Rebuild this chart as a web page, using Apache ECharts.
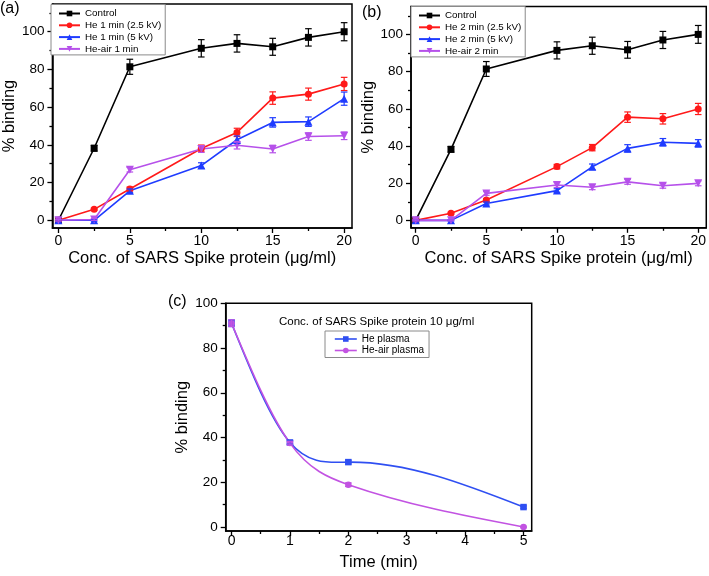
<!DOCTYPE html>
<html>
<head>
<meta charset="utf-8">
<script src="https://cdn.jsdelivr.net/npm/echarts@6/dist/echarts.min.js"></script>
<style>html,body{margin:0;padding:0;background:#fff;}#c{width:709px;height:576px;}</style>
</head>
<body>
<div id="c"></div>
<script>
// ---------- data ----------
const xConc = [0, 2.5, 5, 10, 12.5, 15, 17.5, 20];

const ctrlA = [0, 38.2, 81.4, 91.2, 93.8, 92, 97, 100];
const ctrlAErr = [0, 1.5, 4, 4.6, 4.6, 4.5, 4.6, 4.8];
const he1LowA = [0, 5.8, 16.6, 38.1, 46.6, 64.8, 66.9, 72.3];
const he1LowAErr = [0.4, 0.6, 1, 1.8, 2.2, 3.3, 3.2, 3.5];
const he1HighA = [0, 0, 15.6, 29, 42.7, 51.9, 52.3, 64.5];
const he1HighAErr = [0.4, 0.5, 1, 1.5, 2, 2.5, 2.5, 3.5];
const heAir1A = [0, 0.4, 26.8, 37.8, 39.8, 37.8, 44.4, 44.8];
const heAir1AErr = [0.4, 0.5, 1.2, 1.8, 2, 2, 2, 2];

const ctrlB = [0, 38.2, 81.4, 91.4, 93.9, 91.7, 97, 100];
const ctrlBErr = [0, 1.5, 4, 4.6, 4.6, 4.5, 4.6, 4.8];
const he2LowB = [0, 3.8, 10.9, 28.9, 39.1, 55.5, 54.6, 59.9];
const he2LowBErr = [0.3, 0.5, 0.8, 1.2, 1.7, 2.8, 2.8, 3];
const he2HighB = [0, 0, 9.1, 16, 28.8, 38.7, 42, 41.4];
const he2HighBErr = [0.3, 0.3, 0.8, 1, 1.5, 2, 2, 2];
const heAir2B = [0, 0, 14.5, 19, 17.8, 20.7, 18.6, 19.9];
const heAir2BErr = [0.3, 0.3, 1, 1.3, 1.3, 1.3, 1.3, 1.3];

const timeMin = [0, 1, 2, 5];
const hePlasma = [91.1, 37.8, 29, 8.9];
const hePlasmaErr = [1.5, 0.8, 0.8, 0.5];
const heAirPlasma = [91.1, 37.5, 18.9, 0];
const heAirPlasmaErr = [1.5, 0.8, 0.8, 0.3];

const yTicks = [0, 20, 40, 60, 80, 100];
const yMinorAB = [10, 30, 50, 70, 90, 110];
const yMinorC = [10, 30, 50, 70, 90];
const xTicksAB = [0, 5, 10, 15, 20];
const xMinorAB = [2.5, 7.5, 12.5, 17.5];
const xTicksC = [0, 1, 2, 3, 4, 5];
const xMinorC = [0.5, 1.5, 2.5, 3.5, 4.5];

const namesA = ['Control', 'He 1 min (2.5 kV)', 'He 1 min (5 kV)', 'He-air 1 min'];
const namesB = ['Control', 'He 2 min (2.5 kV)', 'He 2 min (5 kV)', 'He-air 2 min'];
const namesC = ['He plasma', 'He-air plasma'];
const xNameAB = 'Conc. of SARS Spike protein (\u03bcg/ml)';
const yName = '% binding';
const xNameC = 'Time (min)';
const titleC = 'Conc. of SARS Spike protein 10 \u03bcg/ml';

// ---------- styling ----------
const FONT = "'Liberation Sans', Arial, sans-serif";
const BLACK = '#000000', RED = '#ff1a1a', BLUE = '#1f3cff', PURPLE = '#b651ea';
const BLUE_C = '#2f4ff2', PURPLE_C = '#c253e2';
const TRI_DOWN = 'path://M0,0 L10,0 L5,9 Z';

function pairs(xs, ys) { return xs.map((x, i) => [x, ys[i]]); }
function errData(xs, ys, es) { return xs.map((x, i) => [x, ys[i] - es[i], ys[i] + es[i]]); }

// natural cubic spline slopes at each knot (used to draw the curve as Bezier segments)
function splineSlopes(xs, ys) {
  const n = xs.length, h = [], M = new Array(n).fill(0);
  for (let i = 0; i < n - 1; i++) h.push(xs[i + 1] - xs[i]);
  const a = [], b = [], c = [], d = [];
  for (let i = 1; i < n - 1; i++) {
    a.push(h[i - 1]); b.push(2 * (h[i - 1] + h[i])); c.push(h[i]);
    d.push(6 * ((ys[i + 1] - ys[i]) / h[i] - (ys[i] - ys[i - 1]) / h[i - 1]));
  }
  const m = b.length;
  for (let i = 1; i < m; i++) { const w = a[i] / b[i - 1]; b[i] -= w * c[i - 1]; d[i] -= w * d[i - 1]; }
  const sol = new Array(m);
  for (let i = m - 1; i >= 0; i--) sol[i] = (d[i] - (i < m - 1 ? c[i] * sol[i + 1] : 0)) / b[i];
  for (let i = 0; i < m; i++) M[i + 1] = sol[i];
  const s = [];
  for (let i = 0; i < n - 1; i++) s.push((ys[i + 1] - ys[i]) / h[i] - h[i] * (2 * M[i] + M[i + 1]) / 6);
  s.push((ys[n - 1] - ys[n - 2]) / h[n - 2] + h[n - 2] * (M[n - 2] + 2 * M[n - 1]) / 6);
  return s;
}
function splineSegs(xs, ys) {
  const s = splineSlopes(xs, ys);
  return xs.slice(0, -1).map((x, i) => [x, ys[i], xs[i + 1], ys[i + 1], s[i], s[i + 1]]);
}
function splineRender(params, api) {
  const x0 = api.value(0), y0 = api.value(1), x1 = api.value(2), y1 = api.value(3);
  const m0 = api.value(4), m1 = api.value(5), h = x1 - x0;
  const p0 = api.coord([x0, y0]), p3 = api.coord([x1, y1]);
  const p1 = api.coord([x0 + h / 3, y0 + m0 * h / 3]);
  const p2 = api.coord([x1 - h / 3, y1 - m1 * h / 3]);
  return { type: 'bezierCurve',
    shape: { x1: p0[0], y1: p0[1], x2: p3[0], y2: p3[1], cpx1: p1[0], cpy1: p1[1], cpx2: p2[0], cpy2: p2[1] },
    style: { stroke: api.visual('color'), lineWidth: 1.6, fill: null } };
}

function errRender(params, api) {
  const x = api.value(0), lo = api.value(1), hi = api.value(2);
  if (hi - lo <= 0) return null;
  const a = api.coord([x, lo]), b = api.coord([x, hi]);
  const w = 3.3;
  const style = { stroke: api.visual('color'), lineWidth: 1.2, fill: null };
  return { type: 'group', children: [
    { type: 'line', shape: { x1: a[0], y1: a[1], x2: b[0], y2: b[1] }, style },
    { type: 'line', shape: { x1: a[0] - w, y1: a[1], x2: a[0] + w, y2: a[1] }, style },
    { type: 'line', shape: { x1: b[0] - w, y1: b[1], x2: b[0] + w, y2: b[1] }, style }
  ] };
}

function lineSeries(name, xs, ys, color, symbol, size, gi, hideLine) {
  return {
    type: 'line', name, data: pairs(xs, ys), xAxisIndex: gi * 2, yAxisIndex: gi * 2,
    symbol, symbolSize: size,
    lineStyle: { color, width: 1.6, opacity: hideLine ? 0 : 1 }, itemStyle: { color },
    emphasis: { disabled: true }, animation: false, z: 3
  };
}
function errSeries(xs, ys, es, color, gi) {
  return {
    type: 'custom', data: errData(xs, ys, es), xAxisIndex: gi * 2, yAxisIndex: gi * 2,
    renderItem: errRender, itemStyle: { color }, encode: { x: 0, y: [1, 2] },
    animation: false, z: 4, silent: true
  };
}
function splineSeries(xs, ys, color, gi) {
  return {
    type: 'custom', data: splineSegs(xs, ys), xAxisIndex: gi * 2, yAxisIndex: gi * 2,
    renderItem: splineRender, itemStyle: { color }, encode: { x: [0, 2], y: [1, 3] },
    animation: false, z: 2, silent: true
  };
}

function mainX(gi, min, max, ticks, name, gap, margin) {
  return {
    type: 'value', gridIndex: gi, min, max, position: 'bottom',
    name, nameLocation: 'middle', nameGap: gap,
    nameTextStyle: { fontFamily: FONT, fontSize: 16.5, color: '#000' },
    axisLine: { show: true, onZero: false, lineStyle: { color: '#000', width: 1.5 } },
    axisTick: { show: true, customValues: ticks, length: 5, lineStyle: { color: '#000', width: 1.3 } },
    axisLabel: { customValues: ticks, fontFamily: FONT, fontSize: 14, color: '#000', margin },
    splitLine: { show: false }
  };
}
function minorX(gi, min, max, ticks) {
  return {
    type: 'value', gridIndex: gi, min, max, position: 'bottom',
    axisLine: { show: false, onZero: false },
    axisTick: { show: true, customValues: ticks, length: 3, lineStyle: { color: '#000', width: 1.3 } },
    axisLabel: { show: false }, splitLine: { show: false }
  };
}
function mainY(gi, min, max, ticks, gap) {
  return {
    type: 'value', gridIndex: gi, min, max, position: 'left',
    name: yName, nameLocation: 'middle', nameGap: gap, nameRotate: 90,
    nameTextStyle: { fontFamily: FONT, fontSize: 16.5, color: '#000' },
    axisLine: { show: true, onZero: false, lineStyle: { color: '#000', width: 1.5 } },
    axisTick: { show: true, customValues: ticks, length: 5, lineStyle: { color: '#000', width: 1.3 } },
    axisLabel: { customValues: ticks, fontFamily: FONT, fontSize: 13.5, color: '#000', margin: 8 },
    splitLine: { show: false }
  };
}
function minorY(gi, min, max, ticks) {
  return {
    type: 'value', gridIndex: gi, min, max, position: 'left',
    axisLine: { show: false, onZero: false },
    axisTick: { show: true, customValues: ticks, length: 3, lineStyle: { color: '#000', width: 1.3 } },
    axisLabel: { show: false }, splitLine: { show: false }
  };
}
function legendCfg(names, left, top, width, extra) {
  return Object.assign({
    data: names, orient: 'vertical', left, top,
    padding: [4, 4, 1, 7], itemWidth: width, itemHeight: 7, itemGap: 1.8,
    borderColor: '#8a8a8a', borderWidth: 1, backgroundColor: '#fff', borderRadius: 0,
    textStyle: { fontFamily: FONT, fontSize: 9.8, color: '#000' },
    selectedMode: false
  }, extra || {});
}

const chart = echarts.init(document.getElementById('c'), null, { renderer: 'canvas' });

const series = [
  lineSeries(namesA[0], xConc, ctrlA, BLACK, 'rect', 7, 0),
  lineSeries(namesA[1], xConc, he1LowA, RED, 'circle', 7, 0),
  lineSeries(namesA[2], xConc, he1HighA, BLUE, 'triangle', 8, 0),
  lineSeries(namesA[3], xConc, heAir1A, PURPLE, TRI_DOWN, 8, 0),
  errSeries(xConc, ctrlA, ctrlAErr, BLACK, 0),
  errSeries(xConc, he1LowA, he1LowAErr, RED, 0),
  errSeries(xConc, he1HighA, he1HighAErr, BLUE, 0),
  errSeries(xConc, heAir1A, heAir1AErr, PURPLE, 0),

  lineSeries(namesB[0], xConc, ctrlB, BLACK, 'rect', 7, 1),
  lineSeries(namesB[1], xConc, he2LowB, RED, 'circle', 7, 1),
  lineSeries(namesB[2], xConc, he2HighB, BLUE, 'triangle', 8, 1),
  lineSeries(namesB[3], xConc, heAir2B, PURPLE, TRI_DOWN, 8, 1),
  errSeries(xConc, ctrlB, ctrlBErr, BLACK, 1),
  errSeries(xConc, he2LowB, he2LowBErr, RED, 1),
  errSeries(xConc, he2HighB, he2HighBErr, BLUE, 1),
  errSeries(xConc, heAir2B, heAir2BErr, PURPLE, 1),

  lineSeries(namesC[0], timeMin, hePlasma, BLUE_C, 'rect', 6.5, 2, true),
  lineSeries(namesC[1], timeMin, heAirPlasma, PURPLE_C, 'circle', 6.5, 2, true),
  splineSeries(timeMin, hePlasma, BLUE_C, 2),
  splineSeries(timeMin, heAirPlasma, PURPLE_C, 2),
  errSeries(timeMin, hePlasma, hePlasmaErr, BLUE_C, 2),
  errSeries(timeMin, heAirPlasma, heAirPlasmaErr, PURPLE_C, 2)
];

chart.setOption({
  backgroundColor: '#fff',
  animation: false,
  title: [
    { text: '(a)', left: 0, top: 1, padding: 0, textStyle: { fontFamily: FONT, fontSize: 16, fontWeight: 'normal', color: '#000' } },
    { text: '(b)', left: 362, top: 5, padding: 0, textStyle: { fontFamily: FONT, fontSize: 16, fontWeight: 'normal', color: '#000' } },
    { text: '(c)', left: 168, top: 294, padding: 0, textStyle: { fontFamily: FONT, fontSize: 16, fontWeight: 'normal', color: '#000' } },
    { text: titleC, left: 279, top: 316, padding: 0, textStyle: { fontFamily: FONT, fontSize: 11.5, fontWeight: 'normal', color: '#000' } }
  ],
  legend: [
    legendCfg(namesA, 51, 4.5, 21),
    legendCfg(namesB, 411, 6.5, 21),
    legendCfg(namesC, 325, 331, 22, { padding: [3, 5, 2, 9], itemGap: 1.5, textStyle: { fontFamily: FONT, fontSize: 10, color: '#000' }, lineStyle: { opacity: 1, width: 1.6 } })
  ],
  grid: [
    { left: 50, top: 4, width: 302, height: 224, show: true, borderColor: '#000', borderWidth: 1.5, backgroundColor: 'transparent' },
    { left: 411, top: 6.5, width: 296, height: 221.3, show: true, borderColor: '#000', borderWidth: 1.5, backgroundColor: 'transparent' },
    { left: 225.7, top: 303.3, width: 306, height: 227.7, show: true, borderColor: '#000', borderWidth: 1.5, backgroundColor: 'transparent' }
  ],
  xAxis: [
    mainX(0, -0.42, 20.55, xTicksAB, xNameAB, 22, 6), minorX(0, -0.42, 20.55, xMinorAB),
    mainX(1, -0.33, 20.57, xTicksAB, xNameAB, 22, 6), minorX(1, -0.33, 20.57, xMinorAB),
    mainX(2, -0.1, 5.14, xTicksC, xNameC, 23, 3), minorX(2, -0.1, 5.14, xMinorC)
  ],
  yAxis: [
    mainY(0, -4.1, 114.7, yTicks, 28), minorY(0, -4.1, 114.7, yMinorAB),
    mainY(1, -4, 115, yTicks, 28), minorY(1, -4, 115, yMinorAB),
    mainY(2, -1.8, 100, yTicks, 29), minorY(2, -1.8, 100, yMinorC)
  ],
  series
});
</script>
</body>
</html>
